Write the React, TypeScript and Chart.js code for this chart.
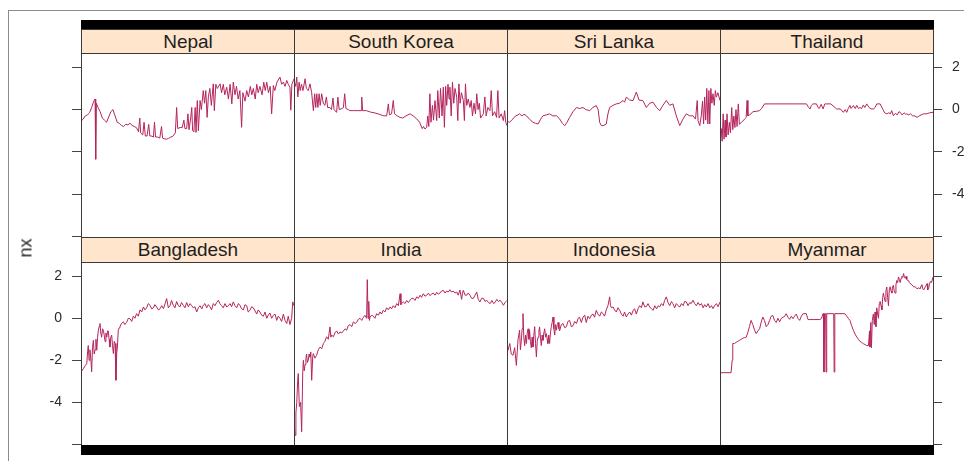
import React, { useEffect, useRef } from "react";
import { Chart, registerables } from "chart.js";

Chart.register(...registerables);

// ---- data (time index 0..100, value) ----
const nepal: [number, number][] = [[0,-0.55],[1,-0.45],[2,-0.3],[3,-0.25],[4,-0.15],[5,0.1],[6,0.4],[6.6,0.5],[6.9,-2.35],[7.2,0.3],[8,0.1],[9,-0.1],[10,-0.4],[11,-0.5],[12,-0.6],[13,-0.35],[14,-0.1],[15,0],[16,-0.3],[17,-0.6],[18,-0.65],[19,-0.75],[20,-0.8],[21,-0.7],[22,-0.72],[23,-0.65],[24,-0.75],[25,-0.8],[26,-0.85],[27,-1.05],[27.6,-0.4],[28,-1.1],[29,-1.2],[29.6,-0.6],[30.2,-1.25],[31,-1.25],[31.8,-0.7],[32.3,-1.25],[33,-1.25],[34,-1.3],[34.5,-0.6],[35,-1.3],[36,-1.3],[37,-1.35],[37.8,-0.8],[38.3,-1.35],[39,-1.38],[40,-1.4],[41,-1.37],[42,-1.3],[43,-1.28],[44.3,-1.1],[44.9,0.1],[45.4,-0.9],[46.5,-0.85],[47.5,-0.85],[48.3,-0.5],[48.8,-0.9],[49.6,-0.9],[50.2,-0.2],[50.7,-0.95],[51.5,-0.4],[52,0.1],[52.4,-1.0],[53,-1.05],[53.6,0.1],[54,-1.08],[54.6,0.43],[55.1,-1.0],[55.9,0.43],[56.5,0.0],[57.4,0.9],[58,0.3],[58.6,0.9],[59.2,-0.37],[59.8,0.6],[60.5,1.0],[61.2,0.2],[62.1,1.22],[62.6,-0.05],[63.3,1.2],[64,1.0],[65.3,1.22],[66,0.8],[66.8,1.2],[67.5,0.7],[68.4,1.06],[69.2,0.5],[70,1.2],[70.8,0.27],[71.5,1.3],[72.3,0.7],[73,1.1],[73.8,0.5],[74.6,0.9],[75.4,-0.84],[76,0.8],[77,0.4],[77.8,0.9],[78.6,0.6],[79.5,1.1],[80.2,0.7],[80.9,1.0],[81.8,0.5],[82.5,1.2],[83.2,0.8],[84,1.1],[85,0.7],[85.8,1.3],[86.5,0.9],[87.2,1.3],[88,0.8],[88.8,1.1],[89.5,-0.2],[90.3,1.14],[91,0.9],[92,1.3],[93.4,1.54],[94.2,1.2],[95,1.3],[95.8,1.1],[96.6,1.38],[97.3,1.2],[98.1,1.06],[98.5,-0.03],[99,1.2],[100,1.46]];

const southKorea: [number, number][] = [[0,1.38],[0.8,1.1],[1.3,1.54],[1.8,0.6],[2.4,1.3],[2.9,0.9],[3.5,1.2],[4.2,0.9],[5.2,1.46],[5.8,1.0],[6.7,0.9],[7.5,1.22],[8.3,0.8],[9.1,-0.05],[9.7,0.75],[10.2,0.1],[10.7,0.75],[11.2,0.1],[11.8,0.75],[12.3,0.2],[13,0.75],[13.8,0.27],[14.5,0.2],[15.2,0.6],[15.8,0.1],[16.9,0.1],[17.6,0.0],[18.3,0.55],[18.8,0],[20,-0.13],[20.6,0.59],[21.2,0.0],[22.5,0.05],[23.2,0.1],[23.8,0.75],[24.4,0.05],[25.5,0.0],[26.3,-0.05],[28,-0.05],[30,-0.05],[31.5,-0.05],[31.8,0.59],[32.2,-0.05],[34,-0.05],[36,-0.12],[38,-0.16],[40,-0.22],[41.9,-0.29],[43.5,-0.3],[44.3,0.27],[44.8,-0.25],[45.8,-0.2],[46.6,0.43],[47.2,-0.2],[48.5,-0.3],[49.8,-0.37],[51,-0.4],[52.5,-0.3],[54.5,-0.2],[56,-0.3],[57.6,-0.44],[59,-0.6],[60.2,-0.9],[60.8,-0.8],[61.5,-0.92],[62.3,-0.84],[62.8,-0.3],[63.3,-0.8],[63.8,0.75],[64.3,-0.6],[65,0.2],[65.5,-0.5],[66.2,0.43],[67,-0.52],[67.5,0.9],[68.2,-0.4],[68.8,1.0],[69.5,-0.3],[70.1,1.06],[70.6,-0.84],[71.2,1.1],[71.7,0.2],[72.3,1.2],[72.8,0.5],[73.2,1.06],[73.8,-0.3],[74.4,1.3],[75,0.3],[75.6,1.0],[76.4,0.59],[76.9,-0.52],[77.4,1.22],[78,0.3],[78.6,0.8],[79.5,0.43],[80,-0.52],[80.5,1.22],[81.1,0.2],[81.8,0.5],[82.6,0.1],[83.2,0.43],[83.8,-0.3],[84.5,0.3],[85.2,-0.2],[85.8,0.75],[86.4,0.0],[87,0.3],[87.6,-0.4],[88.9,-0.2],[89.6,0.6],[90.2,-0.3],[91,0.1],[92,-0.05],[92.6,0.9],[93.2,-0.3],[94.2,-0.1],[95.1,-0.37],[95.7,0.9],[96.3,-0.4],[97.3,-0.2],[98.3,-0.52],[98.9,-0.05],[99.4,-0.6],[100,-0.76]];

const sriLanka: [number, number][] = [[0,-0.55],[1.2,-0.6],[2.8,-0.44],[4,-0.3],[5.2,-0.25],[5.9,-0.2],[7,-0.3],[8,-0.22],[9.1,-0.29],[10.5,-0.45],[12.2,-0.6],[13.4,-0.65],[14.6,-0.68],[15.8,-0.45],[16.9,-0.29],[18.5,-0.25],[20,-0.2],[21.5,-0.3],[23.2,-0.29],[24.7,-0.44],[26,-0.65],[27.1,-0.76],[28.2,-0.6],[29.4,-0.37],[31,-0.1],[32.6,0.1],[34,0.05],[35.7,0.1],[37,0.0],[38.8,-0.05],[40.3,0.1],[41.9,0.19],[42.8,0.0],[43.5,-0.6],[44.3,-0.76],[45.5,-0.75],[46.6,-0.68],[47.4,-0.2],[48.2,0.1],[49.8,0.2],[51.3,0.27],[52.8,0.3],[54.5,0.43],[55.2,0.35],[56,0.59],[57.6,0.45],[59.2,0.43],[60.7,0.83],[62,0.45],[63.8,0.43],[65.4,0.1],[67,0.3],[68.6,0.35],[70.2,0.1],[71.7,-0.05],[73.2,0.2],[74.8,0.43],[76.4,0.2],[77.9,0.27],[79.5,-0.3],[81.1,-0.76],[82.6,-0.45],[84.2,-0.2],[85.8,-0.3],[87.3,-0.29],[88.5,-0.45],[89.3,0.43],[89.7,-0.52],[90.5,-0.76],[91.2,-0.3],[91.8,0.4],[92.3,-0.68],[92.8,0.6],[93.3,-0.5],[93.8,1.0],[94.3,-0.68],[94.8,0.9],[95.2,-0.68],[95.7,1.0],[96.2,0.3],[96.7,0.75],[97.3,0.2],[97.8,0.9],[98.3,0.59],[99,0.8],[100,0.43]];

const thailand: [number, number][] = [[0,-1.63],[0.6,-0.9],[1.0,-1.5],[1.5,-0.2],[1.9,-1.4],[2.4,-0.5],[2.8,-1.3],[3.3,-0.2],[3.8,-1.2],[4.4,-0.6],[4.9,-1.1],[5.5,0.1],[6,-0.95],[6.5,-0.3],[7,-0.85],[7.5,0.0],[8,-0.8],[8.6,0.27],[9.1,-0.7],[10,-0.6],[10.7,-0.55],[11.5,-0.45],[12.3,-0.37],[12.7,0.43],[13.1,-0.3],[13.8,-0.25],[14.6,-0.2],[15.4,-0.1],[17,-0.08],[18.6,-0.05],[19.5,0.05],[20.9,0.27],[25,0.27],[30,0.27],[35,0.27],[40.6,0.27],[41.6,0.1],[42.3,0.03],[42.9,0.2],[43.6,0.27],[45.3,0.27],[46,0.1],[46.6,0.05],[47.5,0.25],[48.4,0.03],[49.2,0.27],[50,0.27],[52,0.27],[54,0.1],[54.7,0.03],[56.5,0.03],[57.9,-0.13],[58.8,0.0],[59.5,-0.13],[60.2,0.05],[61,0.2],[61.5,0.05],[62.6,0.19],[63.5,0.05],[64.2,0.2],[65,0.05],[65.7,0.1],[66.5,0.05],[67.3,0.22],[68,0.1],[68.9,0.27],[70,0.1],[71,0.03],[72,0.03],[72.8,0.1],[73.6,0.27],[75.2,0.27],[76.5,0.0],[77.3,-0.15],[78.3,-0.2],[79.2,-0.15],[80,-0.2],[80.6,-0.05],[81.4,-0.29],[82.3,-0.18],[83.2,-0.25],[84,-0.1],[84.6,-0.13],[85.5,-0.25],[86.4,-0.15],[87.2,-0.22],[87.7,-0.2],[88.5,-0.25],[89.4,-0.2],[90.5,-0.3],[91.5,-0.3],[92.5,-0.37],[93.5,-0.3],[94.5,-0.25],[95.6,-0.2],[97,-0.2],[98.5,-0.15],[100,-0.13]];

const bangladesh: [number, number][] = [[0,-2.56],[1.1,-2.4],[2,-2.25],[2.7,-2.16],[3.1,-1.6],[3.4,-1.3],[3.8,-2.0],[4.2,-1.5],[4.6,-1.9],[5,-2.55],[5.4,-1.4],[5.8,-1.05],[6.2,-1.7],[6.6,-1.5],[7,-1.0],[7.4,-1.52],[7.8,-0.9],[8.1,-0.6],[8.5,-0.4],[8.9,-0.25],[9.3,-0.7],[9.7,-0.9],[10.1,-0.5],[10.5,-0.57],[10.9,-0.8],[11.3,-1.1],[11.7,-0.7],[12.1,-0.9],[12.5,-0.6],[12.8,-0.6],[13.2,-1.0],[13.6,-1.37],[14,-0.9],[14.4,-0.8],[14.8,-1.3],[15.2,-1.68],[15.6,-1.1],[16,-1.2],[16.4,-2.95],[16.8,-1.6],[17,-1.5],[17.5,-0.57],[18,-0.45],[18.3,-0.4],[19,-0.25],[19.9,-0.17],[20.6,-0.3],[21.4,-0.2],[22.2,0.0],[23,-0.02],[23.8,-0.15],[24.6,0.1],[25.3,0.0],[26.1,0.22],[26.9,0.1],[27.7,0.4],[28.5,0.3],[29.3,0.54],[30,0.4],[30.8,0.5],[31.6,0.7],[32.4,0.62],[33.2,0.45],[34,0.5],[34.7,0.65],[35.5,0.54],[36.3,0.4],[37.1,0.45],[37.9,0.6],[38.7,0.46],[39.5,0.7],[40.2,0.94],[41,0.5],[41.8,0.6],[42.5,0.85],[43.3,0.62],[44.1,0.5],[44.9,0.8],[45.7,0.6],[46.5,0.55],[47.2,0.75],[48,0.62],[48.8,0.5],[49.6,0.75],[50.4,0.55],[51.2,0.7],[52,0.6],[52.7,0.5],[53.5,0.55],[54.3,0.3],[55.1,0.5],[55.9,0.6],[56.7,0.45],[57.4,0.62],[58.2,0.7],[59,0.5],[59.8,0.65],[60.6,0.54],[61.3,0.4],[62.1,0.7],[62.9,0.6],[63.7,0.75],[64.5,0.86],[65.2,0.7],[66,0.6],[66.8,0.5],[67.6,0.7],[68.4,0.54],[69.2,0.6],[70,0.7],[70.7,0.55],[71.5,0.78],[72.3,0.6],[73.1,0.5],[73.9,0.7],[74.6,0.62],[75.4,0.45],[76.2,0.4],[77,0.65],[77.8,0.6],[78.5,0.3],[79.3,0.38],[80.1,0.55],[80.9,0.5],[81.7,0.35],[82.5,0.2],[83.2,0.4],[84,0.3],[84.8,0.15],[85.6,0.1],[86.4,0.3],[87.2,0.0],[87.9,0.15],[88.7,0.25],[89.5,0.0],[90.3,0.14],[91.1,0.2],[91.9,-0.1],[92.6,0.1],[93.4,0.0],[94.2,-0.15],[95,0.2],[95.8,-0.1],[96.6,-0.25],[97.3,0.1],[98.1,-0.3],[98.9,0.0],[99.4,0.78],[100,0.6]];

const india: [number, number][] = [[0,-4.86],[0.5,-5.57],[0.9,-4.5],[1.3,-4.0],[1.7,-3.0],[2,-2.63],[2.5,-4.2],[3.1,-4.0],[3.6,-5.4],[4.1,-2.6],[4.4,-2.0],[4.8,-2.5],[5.2,-2.2],[5.6,-1.9],[5.9,-1.7],[6.3,-2.1],[6.7,-2.0],[7.1,-1.7],[7.5,-1.85],[7.9,-1.6],[8.3,-2.95],[8.8,-1.8],[9.1,-1.68],[9.8,-1.9],[10.6,-1.76],[11.4,-1.5],[12.2,-1.37],[13,-1.45],[13.8,-1.2],[14.5,-1.1],[15.3,-0.88],[16.1,-1.0],[16.9,-0.41],[17.3,-0.9],[17.7,-0.8],[18.5,-0.88],[19.2,-0.7],[20,-0.6],[20.8,-0.75],[21.6,-0.65],[22.4,-0.7],[23.2,-0.6],[24,-0.5],[24.7,-0.57],[25.5,-0.35],[26.3,-0.3],[27.1,-0.4],[27.9,-0.17],[28.7,-0.25],[29.4,-0.2],[30.2,-0.05],[31,0.0],[31.8,-0.1],[32.6,0.05],[33.3,0.14],[34.1,0.0],[34.4,1.84],[34.8,0.0],[35.1,0.8],[35.4,-0.1],[35.7,0.06],[36.5,0.15],[37.2,0.1],[38,0.0],[38.8,0.22],[39.6,0.15],[40.4,0.3],[41.1,0.2],[41.9,0.38],[42.7,0.3],[43.5,0.5],[44.3,0.4],[45.1,0.54],[45.8,0.45],[46.6,0.6],[47.4,0.5],[48.2,0.7],[49,0.6],[49.8,1.17],[50.2,0.65],[50.5,0.7],[51.3,0.78],[52.1,0.7],[52.9,0.85],[53.7,0.75],[54.5,0.86],[55.2,0.95],[56,0.95],[56.8,0.85],[57.6,1.02],[58.4,0.95],[59.2,1.1],[59.9,1.0],[60.7,1.17],[61.5,1.05],[62.3,1.1],[63.1,1.2],[63.8,1.08],[64.6,1.15],[65.4,1.2],[66.2,1.1],[67,1.24],[67.7,1.15],[68.5,1.2],[69.3,1.3],[70.1,1.33],[70.9,1.2],[71.7,1.3],[72.4,1.25],[73.2,1.36],[74,1.25],[74.8,1.3],[75.6,1.2],[76.4,1.25],[77.1,1.1],[77.9,1.35],[78.7,0.9],[79.1,1.2],[79.5,1.33],[80.3,1.1],[81.1,1.1],[81.8,1.2],[82.6,1.1],[83.4,0.95],[84.2,0.95],[85,1.1],[85.8,1.25],[86.5,0.9],[87.3,0.78],[88.1,0.95],[88.9,0.95],[89.7,0.8],[90.5,0.86],[91.3,0.75],[92.1,0.7],[92.9,0.85],[93.7,0.7],[94.4,0.75],[95.2,0.9],[96,0.8],[96.8,0.86],[97.6,0.75],[98.3,0.62],[99.1,0.75],[100,0.85]];

const indonesia: [number, number][] = [[0,-1.52],[0.5,-1.52],[1.3,-1.2],[2,-1.7],[2.8,-1.76],[3.6,-1.4],[4.4,-2.24],[4.8,-1.6],[5.2,-1.0],[5.9,-0.57],[6.3,-1.5],[6.7,-1.1],[7.1,-0.5],[7.5,0.22],[7.9,-0.9],[8.3,-1.3],[8.7,-0.8],[9.1,-1.2],[9.5,-0.7],[9.9,-0.5],[10.3,-1.0],[10.6,-0.57],[11,-1.1],[11.4,-1.4],[11.8,-0.9],[12.2,-1.37],[12.6,-0.8],[13,-0.4],[13.4,-1.2],[13.8,-1.84],[14.2,-1.1],[14.6,-0.9],[15,-0.6],[15.3,-0.41],[15.7,-0.9],[16.1,-1.3],[16.5,-0.8],[16.9,-1.05],[17.3,-0.7],[17.7,-0.5],[18.1,-0.9],[18.5,-0.73],[18.9,-1.0],[19.2,-1.2],[19.6,-0.8],[20,-1.2],[20.4,-0.7],[20.8,-0.4],[21.2,-0.2],[21.6,0.06],[22,-0.5],[22.4,-0.8],[22.8,-0.3],[23.2,-0.57],[23.6,-0.3],[24,-0.2],[24.4,-0.5],[24.7,-0.6],[25.5,-0.3],[26.3,-0.25],[27.1,-0.45],[27.9,-0.4],[28.6,-0.15],[29.4,-0.1],[30.2,-0.4],[31,-0.35],[31.8,-0.15],[32.6,-0.25],[33.4,0.0],[34.1,0.05],[34.9,-0.2],[35.7,0.06],[36.5,0.15],[37.2,-0.2],[38,0.1],[38.8,-0.02],[39.6,0.15],[40.4,0.2],[41.1,0.05],[41.9,0.38],[42.7,0.2],[43.5,0.1],[44.3,0.3],[45.1,0.22],[45.8,0.1],[46.6,0.4],[47.4,0.6],[48.2,1.02],[48.6,0.6],[49,0.5],[49.8,0.54],[50.5,0.4],[51.3,0.3],[52.1,0.5],[52.9,0.38],[53.7,0.2],[54.5,0.1],[55.2,0.3],[56,0.06],[56.8,0.2],[57.6,0.3],[58.4,0.15],[59.2,0.38],[59.9,0.45],[60.7,0.2],[61.5,0.45],[62.3,0.6],[63.1,0.5],[63.8,0.78],[64.6,0.55],[65.4,0.55],[66.2,0.7],[67,0.54],[67.8,0.45],[68.6,0.38],[69.4,0.6],[70.2,0.45],[71,0.6],[71.7,0.54],[72.5,0.7],[73.3,0.6],[74,0.85],[74.8,1.02],[75.6,0.75],[76.4,0.6],[77.2,0.8],[77.9,0.7],[78.7,0.5],[79.5,0.7],[80.3,0.6],[81.1,0.54],[81.9,0.7],[82.7,0.6],[83.4,0.8],[84.2,0.78],[85,0.6],[85.8,0.75],[86.5,0.7],[87.3,0.86],[88.1,0.7],[88.9,0.6],[89.7,0.75],[90.5,0.62],[91.3,0.7],[92.1,0.5],[92.8,0.65],[93.6,0.54],[94.4,0.7],[95.2,0.5],[96,0.6],[96.7,0.46],[97.5,0.6],[98.3,0.7],[99.1,0.55],[100,0.78]];

const myanmar: [number, number][] = [[0,-2.59],[5.2,-2.59],[5.7,-2.0],[6,-1.2],[6.8,-1.2],[7.5,-1.15],[8.3,-1.1],[9.1,-1.05],[9.9,-1.0],[10.7,-0.95],[11.5,-0.92],[12.3,-0.9],[13,-0.7],[13.8,-0.4],[14.6,-0.1],[15.4,-0.3],[16.2,-0.55],[17,-0.73],[17.8,-0.6],[18.6,-0.5],[19.3,-0.2],[20.1,0.06],[20.9,-0.1],[21.7,-0.4],[22.5,-0.3],[23.3,-0.1],[24,0.1],[24.8,0.14],[25.6,-0.1],[26.4,-0.2],[27.2,0.0],[28,-0.17],[28.8,0.0],[29.6,0.05],[30.4,0.1],[31.1,0.22],[31.9,0.05],[32.7,-0.05],[33.5,0.1],[34.3,-0.02],[35,0.1],[35.8,0.2],[36.6,0.0],[37.4,-0.1],[38.2,0.1],[39,0.22],[40.5,0.22],[41.3,-0.06],[42.1,-0.06],[44,-0.06],[46.9,-0.06],[47.7,0.0],[48.3,0.22],[48.6,0.22],[48.8,-2.56],[49.1,0.22],[49.6,0.22],[49.8,-2.56],[50.1,0.22],[53.4,0.22],[53.6,-2.56],[53.9,0.22],[58.6,0.22],[59.5,0.1],[60.2,0.0],[61,-0.1],[61.8,-0.35],[62.6,-0.57],[63.4,-0.75],[64.2,-0.89],[65,-1.0],[65.7,-1.1],[66.5,-1.15],[67.3,-1.21],[68.1,-1.25],[68.9,-1.3],[69.7,-1.3],[70.2,-0.6],[70.4,-1.37],[70.8,-0.2],[71.1,-1.4],[71.5,-0.1],[72,0.2],[72.4,-0.3],[72.8,0.3],[73.2,-0.4],[73.6,0.5],[74,0.2],[74.4,0.0],[74.8,0.7],[75.2,0.8],[75.6,0.6],[76,0.4],[76.4,1.0],[76.7,1.2],[77.1,1.0],[77.5,0.8],[77.9,1.3],[78.3,1.49],[78.7,1.0],[79.1,0.6],[79.5,1.4],[79.9,1.5],[80.3,1.3],[80.7,1.2],[81,1.5],[81.4,1.57],[81.8,1.3],[82.2,1.2],[82.6,1.6],[83,1.8],[83.4,1.7],[83.8,1.97],[84.2,1.85],[84.6,1.7],[85,1.9],[85.4,2.0],[85.8,1.95],[86.2,2.13],[86.6,1.95],[87,1.9],[87.4,2.0],[87.7,1.85],[88.1,1.8],[88.5,1.8],[88.9,1.7],[89.3,1.65],[90.1,1.6],[90.9,1.5],[91.7,1.5],[92.5,1.4],[93.3,1.45],[94,1.4],[94.4,1.55],[94.8,1.6],[95.2,1.4],[95.6,1.35],[96.4,1.5],[97.2,1.65],[97.5,1.35],[97.9,1.4],[98.3,1.6],[98.7,1.75],[99.3,1.7],[100,1.97]];

const topNames = ["Nepal", "South Korea", "Sri Lanka", "Thailand"];
const bottomNames = ["Bangladesh", "India", "Indonesia", "Myanmar"];
const topSeries = [nepal, southKorea, sriLanka, thailand];
const bottomSeries = [bangladesh, india, indonesia, myanmar];
const yTicks = [-6, -4, -2, 0, 2];
const yLabelled = [-4, -2, 0, 2];
const yMin = -6.08;
const yMax = 2.68;
const yTitle = "nx";

// ---- layout (page coordinates; container is fixed to the viewport) ----
const FONT = "'Liberation Sans', Arial, Helvetica, sans-serif";
const LINE = "#b5245d";
const FRAME = "#3a3a3a";
const colX = [81, 294, 507, 720];
const PW = 213;
const AXW = 50;
const rows = [
  { stripTop: 29, stripH: 25, plotTop: 53, plotH: 185 },
  { stripTop: 237, stripH: 26, plotTop: 262, plotH: 184 },
];

type Panel = {
  name: string;
  data: [number, number][];
  row: number;
  col: number;
  axis: "left" | "right" | null;
  labels: boolean;
};

const panels: Panel[] = [
  ...topNames.map((n, i) => ({
    name: n, data: topSeries[i], row: 0, col: i,
    axis: i === 0 ? "left" : i === 3 ? "right" : null,
    labels: i === 3,
  } as Panel)),
  ...bottomNames.map((n, i) => ({
    name: n, data: bottomSeries[i], row: 1, col: i,
    axis: i === 0 ? "left" : i === 3 ? "right" : null,
    labels: i === 0,
  } as Panel)),
];

export default function App() {
  const refs = useRef<(HTMLCanvasElement | null)[]>([]);

  useEffect(() => {
    const charts: Chart[] = [];
    panels.forEach((p, idx) => {
      const cv = refs.current[idx];
      if (!cv) return;
      const hasAxis = p.axis !== null;
      const yScale: any = {
        type: "linear",
        min: yMin,
        max: yMax,
        display: hasAxis,
        position: p.axis === "right" ? "right" : "left",
        afterBuildTicks: (s: any) => {
          s.ticks = yTicks.map((v) => ({ value: v }));
        },
        border: { display: false },
        grid: {
          drawOnChartArea: false,
          drawTicks: true,
          tickLength: 9,
          tickColor: "#444",
          lineWidth: 1,
        },
        ticks: {
          padding: 10,
          crossAlign: "near",
          color: "#2a2a2a",
          font: { family: FONT, size: 14 },
          autoSkip: false,
          callback: (v: any) => (p.labels && yLabelled.includes(Number(v)) ? String(v) : ""),
        },
      };
      if (hasAxis) {
        yScale.afterFit = (s: any) => {
          s.width = AXW;
          s.paddingTop = 0;
          s.paddingBottom = 0;
        };
      }
      const ch = new Chart(cv, {
        type: "line",
        data: {
          datasets: [
            {
              data: p.data.map(([x, y]) => ({ x, y })),
              borderColor: LINE,
              borderWidth: 1,
              pointRadius: 0,
              tension: 0,
              fill: false,
            },
          ],
        },
        options: {
          animation: false,
          responsive: false,
          maintainAspectRatio: false,
          events: [],
          layout: { padding: 0 },
          plugins: { legend: { display: false }, tooltip: { enabled: false }, title: { display: false } },
          scales: {
            x: { type: "linear", min: 0, max: 100, display: false },
            y: yScale,
          },
        },
      } as any);
      charts.push(ch);
    });
    return () => charts.forEach((c) => c.destroy());
  }, []);

  return (
    <div style={{ position: "fixed", left: 0, top: 0, width: 964, height: 461, overflow: "hidden", fontFamily: FONT, background: "#fff" }}>
      <div style={{ position: "absolute", left: 8, top: 10, width: 1100, height: 600, border: "1px solid #8c8c8c" }} />
      {panels.map((p, idx) => {
        const r = rows[p.row];
        const left = p.axis === "left" ? colX[p.col] - AXW : colX[p.col];
        const width = p.axis ? PW + AXW : PW;
        return (
          <canvas
            key={"c" + idx}
            ref={(el) => { refs.current[idx] = el; }}
            width={width}
            height={r.plotH}
            style={{ position: "absolute", left, top: r.plotTop, width, height: r.plotH }}
          />
        );
      })}
      {panels.map((p, idx) => {
        const r = rows[p.row];
        return (
          <React.Fragment key={"f" + idx}>
            <div style={{ position: "absolute", left: colX[p.col], top: r.plotTop, width: PW + 1, height: r.plotH, border: `1px solid ${FRAME}`, boxSizing: "border-box", pointerEvents: "none" }} />
            <div style={{ position: "absolute", left: colX[p.col], top: r.stripTop, width: PW + 1, height: r.stripH, border: `1px solid ${FRAME}`, boxSizing: "border-box", background: "#ffe5cc", textAlign: "center", fontSize: 19, lineHeight: `${r.stripH - 2}px`, color: "#1e1e1e", whiteSpace: "nowrap" }}>
              {p.name}
            </div>
          </React.Fragment>
        );
      })}
      <div style={{ position: "absolute", left: 81, top: 20, width: 853, height: 9, background: "#000" }} />
      <div style={{ position: "absolute", left: 81, top: 445, width: 853, height: 10, background: "#000" }} />
      <div style={{ position: "absolute", left: 26, top: 248, transform: "translate(-50%, -50%) rotate(-90deg)", fontSize: 18, color: "#222", whiteSpace: "nowrap" }}>
        {yTitle}
      </div>
    </div>
  );
}
